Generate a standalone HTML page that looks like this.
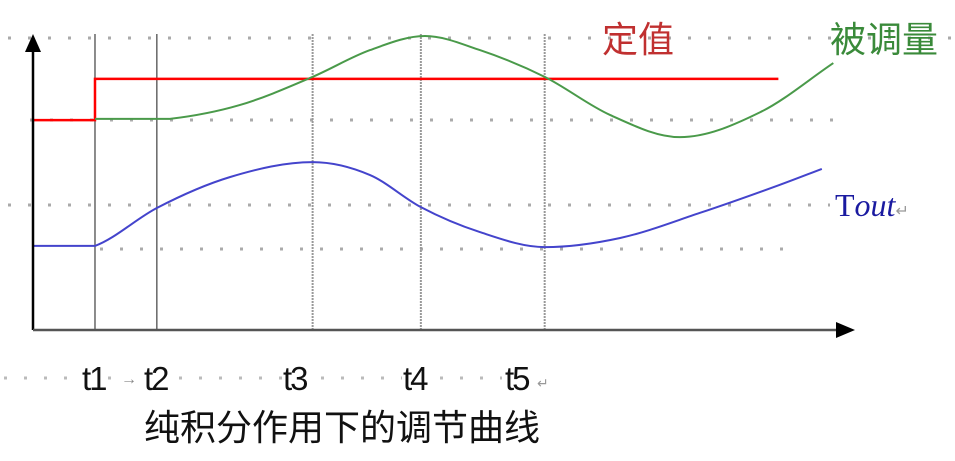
<!DOCTYPE html>
<html><head><meta charset="utf-8"><style>
html,body{margin:0;padding:0;background:#fff;width:955px;height:461px;overflow:hidden}
svg{display:block}
</style></head><body>
<svg id="chart" width="955" height="461" viewBox="0 0 955 461" xmlns="http://www.w3.org/2000/svg">
<g id="grid"></g>
<g id="marks"></g>
<g id="axes"></g>
<g id="labels"></g>
</svg>
<script>
// data (x in time units 0..100, y in value units 0..100)
const timeMarks = [7.56, 15.1, 34.1, 47.3, 62.4];
const timeLabels = ["t1", "t2", "t3", "t4", "t5"];
const setpointBefore = 71.4;
const setpointAfter = 85.4;
const setpointEnd = 90.9;
const pvX = [7.56, 16.7, 25.2, 34.1, 41.1, 47.8, 54.5, 62.4, 70.4, 78.9, 88.7, 97.6];
const pvY = [71.8, 71.8, 76.5, 86.1, 95.2, 100, 95.2, 86.1, 73.1, 65.6, 74.1, 90.8];
const toutX = [0, 7.56, 15.1, 24.0, 34.1, 41.1, 47.3, 54.5, 62.4, 71.6, 81.3, 91.0, 96.2];
const toutY = [28.6, 28.6, 41.5, 52.0, 57.1, 52.7, 41.8, 33.3, 28.2, 31.3, 39.8, 49.3, 54.8];

const NS = "http://www.w3.org/2000/svg";
const X0 = 33, X1 = 853, Y0 = 330, Y1 = 36;
function xs(v){ return X0 + v * (X1 - X0) / 100; }
function ys(v){ return Y0 - v * (Y0 - Y1) / 100; }
function mk(tag, attrs, parent){
  const e = document.createElementNS(NS, tag);
  for (const k in attrs) e.setAttribute(k, attrs[k]);
  parent.appendChild(e);
  return e;
}
function smooth(px, py){
  const P = px.map((x,i)=>[xs(x), ys(py[i])]);
  const n = P.length;
  const s = [];
  for (let i=0;i<n-1;i++) s.push((P[i+1][1]-P[i][1])/(P[i+1][0]-P[i][0]));
  const m = [];
  for (let i=0;i<n;i++){
    if (i===0) m.push(s[0]);
    else if (i===n-1) m.push(s[n-2]);
    else if (s[i-1]===0) m.push(s[i]*0.6);
    else if (s[i-1]*s[i]<=0) m.push(0);
    else m.push((s[i-1]+s[i])/2);
  }
  let d = "M" + P[0][0] + "," + P[0][1];
  for (let i=0;i<n-1;i++){
    if (s[i]===0){ d += " L"+P[i+1][0]+","+P[i+1][1]; continue; }
    const h = P[i+1][0]-P[i][0];
    d += " C"+(P[i][0]+h/3)+","+(P[i][1]+m[i]*h/3)+" "+(P[i+1][0]-h/3)+","+(P[i+1][1]-m[i+1]*h/3)+" "+P[i+1][0]+","+P[i+1][1];
  }
  return d;
}
const grid = document.getElementById("grid");
const marks = document.getElementById("marks");
const axes = document.getElementById("axes");
const labels = document.getElementById("labels");

[[38,8,960],[120,30,840],[205,8,830],[249,100,800]].forEach(r=>{
  const l = mk("line",{x1:r[1],y1:r[0],x2:r[2],y2:r[0],stroke:"#aaa","stroke-width":3,"stroke-dasharray":"3 17"},grid);
  
  
});
timeMarks.forEach((t,i)=>{
  const dotted = i >= 2;
  const l = mk("line",{x1:xs(t),y1:34,x2:xs(t),y2:Y0,stroke:dotted?"#999":"#666","stroke-width":dotted?2:1.5,"stroke-dasharray":dotted?"2 1":"none"},grid);
  
  
});

const sp = mk("path",{d:"M"+xs(0)+","+ys(setpointBefore)+" H"+xs(timeMarks[0])+" V"+ys(setpointAfter)+" H"+xs(setpointEnd),fill:"none",stroke:"#f00","stroke-width":2.5},marks);


const pv = mk("path",{d:smooth(pvX,pvY),fill:"none",stroke:"#4a9a4a","stroke-width":2},marks);


const to = mk("path",{d:smooth(toutX,toutY),fill:"none",stroke:"#4444cc","stroke-width":2},marks);



const ya = mk("line",{x1:X0,y1:Y0,x2:X0,y2:48,stroke:"#000","stroke-width":2.5},axes);


const yarr = mk("polygon",{points:"25,52 33,34 41,52",fill:"#000"},axes);


const xa = mk("line",{x1:X0,y1:Y0,x2:840,y2:Y0,stroke:"#555","stroke-width":2.5},axes);


const xarr = mk("polygon",{points:"836,322 855,330 836,338",fill:"#000"},axes);



[[0,82],[104,112],[175,282],[317,402],[436,502]].forEach(s=>{
  const l = mk("line",{x1:s[0]+4,y1:378,x2:s[1],y2:378,stroke:"#bbb","stroke-width":3,"stroke-dasharray":"3 17"},grid);
  
  
});
const ar = mk("text",{x:121,y:384,"font-family":"Liberation Sans, sans-serif","font-size":16,fill:"#888"},labels);
ar.textContent = "→";



const labelX = [82, 144, 283, 403, 505];
timeLabels.forEach((s,i)=>{
  const t = mk("text",{x:labelX[i],y:390,"font-family":"Liberation Sans, sans-serif","font-size":33,fill:"#111","letter-spacing":"-2"},labels);
  t.textContent = s;
  
  
});
const ret = mk("text",{x:537,y:388,"font-family":"Liberation Sans, sans-serif","font-size":14,fill:"#999"},labels);
ret.textContent = "↵";



function label(txt,x,y,size,color,name,fam){
  const t = mk("text",{x:x,y:y,"font-family":fam||"Liberation Sans, Noto Sans CJK SC, sans-serif","font-size":size,fill:color},labels);
  t.textContent = txt;
  
  
  return t;
}
label("定值",602,52,36,"#c03030","setpoint-label");
label("被调量",830,52,36,"#3a8a3a","controlled-variable-label");
const tl = mk("text",{x:835,y:216,"font-family":"Liberation Serif, serif","font-size":32,fill:"#1a1aa0"},labels);
tl.innerHTML = 'T<tspan font-style="italic">out</tspan><tspan font-size="16" fill="#999">↵</tspan>';


label("纯积分作用下的调节曲线",144,440,36,"#111","chart-caption");
</script>
</body></html>
